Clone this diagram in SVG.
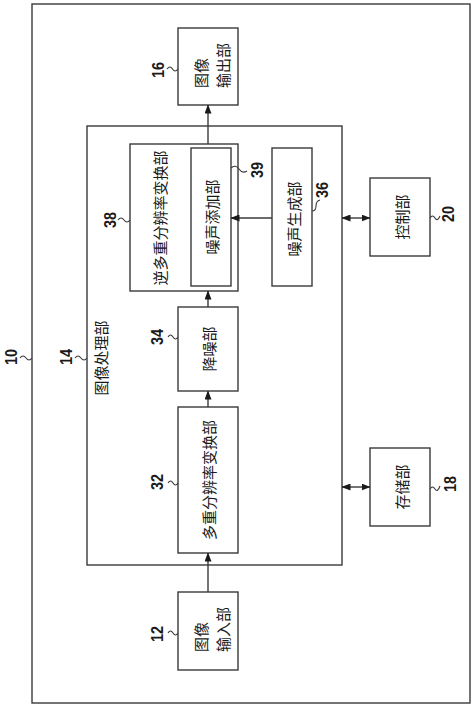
<svg xmlns="http://www.w3.org/2000/svg" width="474" height="708" viewBox="0 0 474 708">
<style>
.box{fill:none;stroke:#3a3a3a;stroke-width:1.4}
.t{font-family:"Noto Sans CJK SC","Noto Sans CJK JP",sans-serif;font-size:15px;fill:#1a1a1a}
.n{font-family:"Liberation Sans",Arial,sans-serif;font-weight:bold;font-size:17px;fill:#1a1a1a}
.c{fill:none;stroke:#3a3a3a;stroke-width:1.4}
.lead{fill:none;stroke:#3a3a3a;stroke-width:1.1}
</style>
<defs>
<marker id="ah" markerWidth="9" markerHeight="7" refX="8.5" refY="3.5" orient="auto-start-reverse" markerUnits="userSpaceOnUse">
<path d="M0,0 L9,3.5 L0,7 z" fill="#1a1a1a"/>
</marker>
</defs>
<rect width="474" height="708" fill="#ffffff"/>

<g id="n10">
<rect class="box" x="32" y="4" width="438" height="699"/>
<text class="n" transform="translate(11,357) rotate(-90) scale(0.85,1)" text-anchor="middle" dominant-baseline="central">10</text>
<path class="lead" d="M20,358 q3,-4 6,0 t6,0"/>
</g>

<g id="n14">
<rect class="box" x="87" y="126" width="255" height="439"/>
<text class="t" transform="translate(100,358) rotate(-90)" text-anchor="middle" dominant-baseline="central">图像处理部</text>
<text class="n" transform="translate(66,357) rotate(-90) scale(0.85,1)" text-anchor="middle" dominant-baseline="central">14</text>
<path class="lead" d="M75,358 q3,-4 6,0 t6,0"/>
</g>

<g id="n16">
<rect class="box" x="178" y="28" width="60" height="77"/>
<text class="t" transform="translate(200,88) rotate(-90)" text-anchor="start" dominant-baseline="central">图像</text>
<text class="t" transform="translate(222,88) rotate(-90)" text-anchor="start" dominant-baseline="central">输出部</text>
<text class="n" transform="translate(158,70) rotate(-90) scale(0.85,1)" text-anchor="middle" dominant-baseline="central">16</text>
<path class="lead" d="M167,69 q3,-4 5.5,0 t5.5,0"/>
</g>

<g id="n38">
<rect class="box" x="130" y="144" width="108" height="147"/>
<text class="t" transform="translate(159,218) rotate(-90)" text-anchor="middle" dominant-baseline="central">逆多重分辨率变换部</text>
<text class="n" transform="translate(110,220) rotate(-90) scale(0.85,1)" text-anchor="middle" dominant-baseline="central">38</text>
<path class="lead" d="M118,220 q3,-4 6,0 t6,0"/>
</g>

<g id="n39">
<rect class="box" x="191" y="148" width="40" height="138"/>
<text class="t" transform="translate(211,217) rotate(-90)" text-anchor="middle" dominant-baseline="central">噪声添加部</text>
<text class="n" transform="translate(257,170) rotate(-90) scale(0.85,1)" text-anchor="middle" dominant-baseline="central">39</text>
<path class="lead" d="M231,168 c3,-3 6,-2 8,1 s5,4 8,2"/>
</g>

<g id="n36">
<rect class="box" x="272" y="148" width="40" height="138"/>
<text class="t" transform="translate(293,219) rotate(-90)" text-anchor="middle" dominant-baseline="central">噪声生成部</text>
<text class="n" transform="translate(322,190) rotate(-90) scale(0.85,1)" text-anchor="middle" dominant-baseline="central">36</text>
<path class="lead" d="M312,211 c4,0 4,-3 4,-5 s0,-5 4,-6"/>
</g>

<g id="n20">
<rect class="box" x="370" y="178" width="60" height="78"/>
<text class="t" transform="translate(401,217) rotate(-90)" text-anchor="middle" dominant-baseline="central">控制部</text>
<text class="n" transform="translate(448,214) rotate(-90) scale(0.85,1)" text-anchor="middle" dominant-baseline="central">20</text>
<path class="lead" d="M430,218 q2.5,-4 5,0 t5,-2"/>
</g>

<g id="n34">
<rect class="box" x="178" y="307" width="60" height="84"/>
<text class="t" transform="translate(208,349) rotate(-90)" text-anchor="middle" dominant-baseline="central">降噪部</text>
<text class="n" transform="translate(157,337) rotate(-90) scale(0.85,1)" text-anchor="middle" dominant-baseline="central">34</text>
<path class="lead" d="M168,337 q2.5,-4 5,0 t5,0"/>
</g>

<g id="n32">
<rect class="box" x="178" y="407" width="60" height="146"/>
<text class="t" transform="translate(208,480) rotate(-90)" text-anchor="middle" dominant-baseline="central">多重分辨率变换部</text>
<text class="n" transform="translate(157,482) rotate(-90) scale(0.85,1)" text-anchor="middle" dominant-baseline="central">32</text>
<path class="lead" d="M168,483 q2.5,-4 5,0 t5,0"/>
</g>

<g id="n18">
<rect class="box" x="370" y="448" width="60" height="78"/>
<text class="t" transform="translate(401,487) rotate(-90)" text-anchor="middle" dominant-baseline="central">存储部</text>
<text class="n" transform="translate(450,484) rotate(-90) scale(0.85,1)" text-anchor="middle" dominant-baseline="central">18</text>
<path class="lead" d="M430,489 q2.5,-4 5,0 t5,-3"/>
</g>

<g id="n12">
<rect class="box" x="178" y="592" width="60" height="78"/>
<text class="t" transform="translate(200,652) rotate(-90)" text-anchor="start" dominant-baseline="central">图像</text>
<text class="t" transform="translate(222,652) rotate(-90)" text-anchor="start" dominant-baseline="central">输入部</text>
<text class="n" transform="translate(157,634) rotate(-90) scale(0.85,1)" text-anchor="middle" dominant-baseline="central">12</text>
<path class="lead" d="M168,633 q2.5,-4 5,0 t5,0"/>
</g>

<g id="connectors">
<line class="c" x1="208" y1="144" x2="208" y2="105" marker-end="url(#ah)"/>
<line class="c" x1="208" y1="307" x2="208" y2="291" marker-end="url(#ah)"/>
<line class="c" x1="208" y1="407" x2="208" y2="391" marker-end="url(#ah)"/>
<line class="c" x1="208" y1="592" x2="208" y2="553" marker-end="url(#ah)"/>
<line class="c" x1="272" y1="218" x2="231" y2="218" marker-end="url(#ah)"/>
<line class="c" x1="342" y1="218" x2="370" y2="218" marker-start="url(#ah)" marker-end="url(#ah)"/>
<line class="c" x1="342" y1="487" x2="370" y2="487" marker-start="url(#ah)" marker-end="url(#ah)"/>
</g>
</svg>
